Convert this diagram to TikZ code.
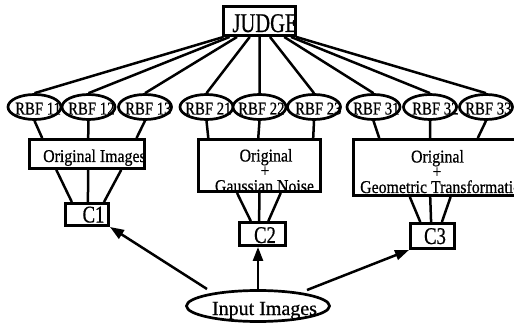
\documentclass[tikz,border=0pt]{standalone}
\usepackage{fontspec}
\setmainfont{Liberation Serif}[FakeBold=0.7]
\usetikzlibrary{shapes.geometric,arrows.meta,calc}
\newcommand{\sqz}[2][0.85]{\scalebox{#1}[1]{#2}}
\begin{document}
\begin{tikzpicture}[x=1pt,y=-1pt,
  conn/.style={line width=2.5pt},
  arr/.style={line width=2.5pt,-{Triangle[length=14pt,width=10pt]}},
  boxnode/.style={draw,line width=2.9pt,rectangle,inner sep=0pt},
  rbfell/.style={draw,ellipse,line width=2.7pt,fill=white,minimum width=53pt,minimum height=25pt,inner sep=0pt},
  rbftxt/.style={anchor=base west,inner sep=0pt,font=\fontsize{18}{18}\selectfont},
  boxtxt/.style={anchor=base,inner sep=0pt,font=\fontsize{18}{18}\selectfont},
  ctxt/.style={anchor=base,inner sep=0pt,font=\fontsize{24}{24}\selectfont},
]
\useasboundingbox (0,0) rectangle (514,323);
\clip (0,0) rectangle (514,323);

% RBF ellipses with labels (each next ellipse covers the overflow of the previous label)
\node[rbfell] (r11) at (34.5,107) {};
\node[rbftxt] at (15,114.5) {\sqz[0.82]{RBF 11}};
\node[rbfell] (r12) at (88.5,107) {};
\node[rbftxt] at (68,114.5) {\sqz[0.82]{RBF 12}};
\node[rbfell] (r13) at (145,107) {};
\node[rbftxt] at (125,114.5) {\sqz[0.82]{RBF 13}};
\node[rbfell] (r21) at (206.5,107) {};
\node[rbftxt] at (185,114.5) {\sqz[0.82]{RBF 21}};
\node[rbfell] (r22) at (259.5,107) {};
\node[rbftxt] at (238,114.5) {\sqz[0.82]{RBF 22}};
\node[rbfell] (r23) at (314,107) {};
\node[rbftxt] at (295,114.5) {\sqz[0.82]{RBF 23}};
\node[rbfell] (r31) at (373.5,107) {};
\node[rbftxt] at (353,114.5) {\sqz[0.82]{RBF 31}};
\node[rbfell] (r32) at (430,107) {};
\node[rbftxt] at (412,114.5) {\sqz[0.82]{RBF 32}};
\node[rbfell] (r33) at (486,107) {};
\node[rbftxt] at (465,114.5) {\sqz[0.82]{RBF 33}};

% texts of boxes (drawn before the box borders)
\node[anchor=base,inner sep=0pt,font=\fontsize{27}{27}\selectfont] at (265,32) {\sqz[0.76]{JUDGE}};
\node[boxtxt,anchor=base west] at (43,162) {\sqz[0.88]{Original Images}};
\node[boxtxt] at (266,161.5) {\sqz[0.88]{Original}};
\node[boxtxt] at (265,176.5) {\sqz[0.88]{+}};
\node[boxtxt] at (264.5,192) {\sqz[0.88]{Gaussian Noise}};
\node[boxtxt] at (437.5,162.5) {\sqz[0.88]{Original}};
\node[boxtxt] at (437,177.5) {\sqz[0.88]{+}};
\node[boxtxt,anchor=base west] at (360,193) {\sqz[0.88]{Geometric Transformation}};
\node[ctxt] at (93.5,222.5) {\sqz[0.78]{C1}};
\node[ctxt] at (265,243) {\sqz[0.78]{C2}};
\node[ctxt] at (435,244) {\sqz[0.78]{C3}};
\node[anchor=base,inner sep=0pt,font=\fontsize{20}{20}\selectfont] at (264.5,315) {Input Images};

% boxes
\node[boxnode,minimum width=72pt,minimum height=29pt] (judge) at (259.5,21) {};
\node[boxnode,minimum width=115pt,minimum height=29pt] (b1) at (87,154) {};
\node[boxnode,minimum width=122pt,minimum height=52pt] (b2) at (259.5,165.5) {};
\node[boxnode,minimum width=167pt,minimum height=56pt] (b3) at (437,167.5) {};
\node[boxnode,minimum width=43pt,minimum height=22pt] (c1) at (87,214.5) {};
\node[boxnode,minimum width=46pt,minimum height=23pt] (c2) at (262.5,234) {};
\node[boxnode,minimum width=44pt,minimum height=25pt] (c3) at (432.5,236) {};
\node[draw,ellipse,line width=2.7pt,minimum width=143pt,minimum height=31pt,inner sep=0pt] (inp) at (258,306) {};

% JUDGE -> RBF
\foreach \n/\f in {r11/0.02,r12/0.10,r13/0.20,r21/0.37,r22/0.5,r23/0.64,r31/0.83,r32/0.92,r33/0.99}
  \draw[conn] ($(judge.south west)!\f!(judge.south east)$) -- (\n.north);

% RBF -> boxes
\draw[conn] (r11.south) -- ($(b1.north west)!0.12!(b1.north east)$);
\draw[conn] (r12.south) -- ($(b1.north west)!0.51!(b1.north east)$);
\draw[conn] (r13.south) -- ($(b1.north west)!0.92!(b1.north east)$);
\draw[conn] (r21.south) -- ($(b2.north west)!0.09!(b2.north east)$);
\draw[conn] (r22.south) -- ($(b2.north west)!0.49!(b2.north east)$);
\draw[conn] (r23.south) -- ($(b2.north west)!0.93!(b2.north east)$);
\draw[conn] (r31.south) -- ($(b3.north west)!0.16!(b3.north east)$);
\draw[conn] (r32.south) -- ($(b3.north west)!0.46!(b3.north east)$);
\draw[conn] (r33.south) -- ($(b3.north west)!0.74!(b3.north east)$);

% boxes -> C
\foreach \a/\b in {0.24/0.17,0.51/0.52,0.79/0.87}
  \draw[conn] ($(b1.south west)!\a!(b1.south east)$) -- ($(c1.north west)!\b!(c1.north east)$);
\foreach \a/\b in {0.32/0.26,0.5/0.43,0.67/0.62}
  \draw[conn] ($(b2.south west)!\a!(b2.south east)$) -- ($(c2.north west)!\b!(c2.north east)$);
\foreach \a/\b in {0.34/0.24,0.46/0.47,0.58/0.70}
  \draw[conn] ($(b3.south west)!\a!(b3.south east)$) -- ($(c3.north west)!\b!(c3.north east)$);

% input -> C
\draw[arr] ($(inp.center)+(-51,-17)$) -- (c1.south east);
\draw[arr] (inp.north) -- (inp.north |- c2.south);
\draw[arr] ($(inp.center)+(49,-16)$) -- (c3.south west);
\end{tikzpicture}
\end{document}
